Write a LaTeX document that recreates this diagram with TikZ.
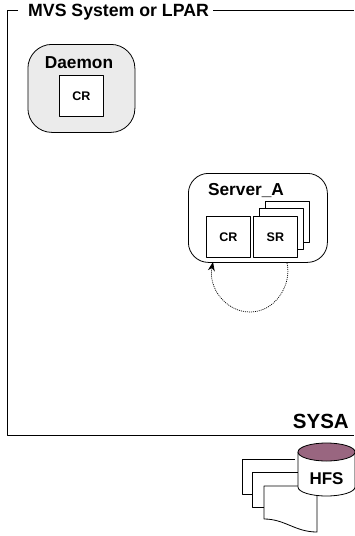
\documentclass[tikz,border=0pt]{standalone}
\usepackage{fontspec}
\setmainfont{Liberation Sans}
\usetikzlibrary{arrows.meta}
\definecolor{diskcolor}{HTML}{996680}
\tikzset{
	title/.style={font=\fontsize{#1}{#1}\selectfont\bfseries,inner sep=0pt},
	proc/.style={draw,line width=0.8pt,anchor=north west,inner sep=0pt},
	unit/.style={draw,line width=0.7pt,fill=white,anchor=north west,inner sep=0pt,font=\fontsize{12.5}{12.5}\selectfont\bfseries,minimum width=44pt,minimum height=41pt},
	page/.style={draw,line width=0.8pt,fill=white}
}
\begin{document}
\begin{tikzpicture}[x=1pt,y=-1pt,line join=round,>=stealth]
	\useasboundingbox (0,0) rectangle (354,536);
	% frame of the system
	\node[title=17.7,anchor=west] (lpar) at (28,12.5) {MVS System or LPAR};
	\coordinate (frametop) at (18,10);
	\coordinate (framerest) at (213,10);
	\coordinate (frameend) at (354,435);
	\draw[line width=0.9pt] (frametop) -- (7,10) -- (7,435) -- (frameend);
	\draw[line width=0.9pt] (framerest) -- (354,10);
	\node[title=20.5,anchor=south east] (sysa) at (349,429) {SYSA};
	% daemon
	\node[proc,rounded corners=24pt,fill=black!8,minimum width=107pt,minimum height=88pt] (daemon) at (27.5,44) {};
	\node[title=17.3] (daemonlabel) at (79,62.5) {Daemon};
	\node[unit] (daemoncr) at (59,75) {CR};
	% server
	\node[proc,rounded corners=20pt,minimum width=139pt,minimum height=89pt] (server) at (188,173) {};
	\node[title=17.3] (serverlabel) at (246,190.5) {Server\_A};
	\node[unit] (srback) at (265,201) {};
	\node[unit] (srmid) at (259,208) {};
	\node[unit] (sr) at (253,216) {SR};
	\node[unit] (cr) at (206,216) {CR};
	\coordinate (loopstart) at (287,263);
	\coordinate (loopend) at (213,262);
	\draw[dash pattern=on 1pt off 1pt,line width=0.7pt,-{Stealth[length=9pt,width=7pt]}] (loopstart) .. controls (292,284) and (276,312) .. (250,312) .. controls (226,312) and (208,288) .. (loopend);
	% files and disk
	\draw[page] (295,459) -- (242,459) -- (242,494) -- (295,494);
	\draw[page] (300,472) -- (252,472) -- (252,507) -- (300,507);
	\draw[page] (317,486) -- (264,486) -- (264,519) .. controls (285,519) and (295,532) .. (317,532) -- cycle;
	\draw[page] (298,452) -- (298,487) arc[start angle=180,end angle=360,x radius=28.5,y radius=-9] -- (355,452);
	\draw[line width=0.8pt,fill=diskcolor] (326.5,452) ellipse[x radius=28.5,y radius=9];
	\node[title=17] (hfs) at (326.5,479) {HFS};
\end{tikzpicture}
\end{document}
